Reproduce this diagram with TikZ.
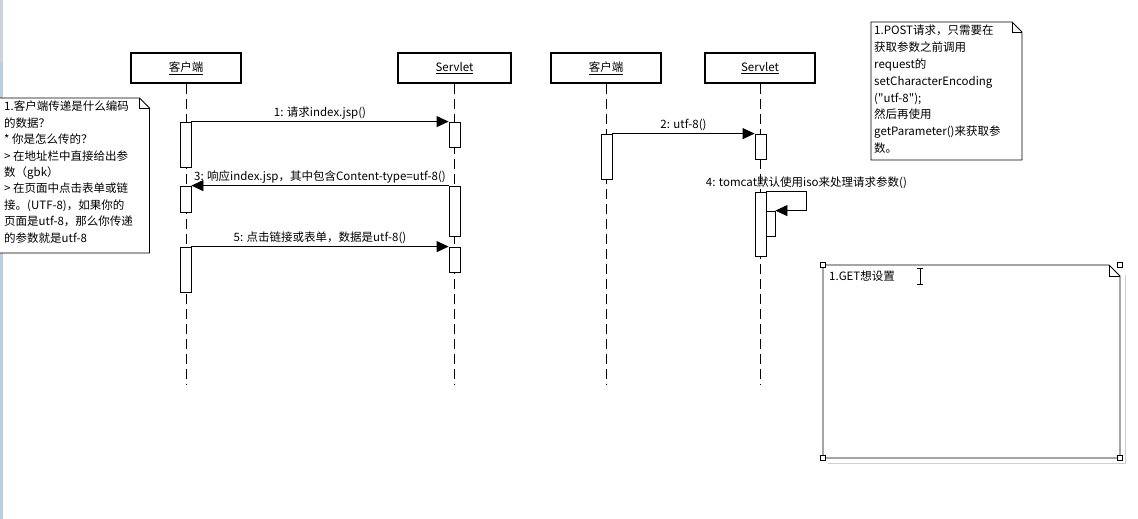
\documentclass[tikz,border=0pt]{standalone}
\usepackage{fontspec}
\setmainfont{Noto Sans CJK SC}[Ligatures=TeXOff]
\usetikzlibrary{arrows.meta}
\definecolor{strip}{HTML}{B9CDE5}
\definecolor{stripgrey}{HTML}{CBD3DC}
\definecolor{shadowgrey}{HTML}{D0D0D0}
\newcommand{\dfs}{\fontsize{11.5}{16.4}\selectfont}
\begin{document}
\begin{tikzpicture}[x=1pt,y=-1pt,
  head/.style={draw, line width=1.6pt, minimum height=30pt, inner sep=0pt, font=\dfs},
  actbar/.style={draw, fill=white, line width=0.8pt, inner sep=0pt, minimum width=11pt},
  lifeline/.style={line width=0.8pt, dash pattern=on 10pt off 5pt},
  msg/.style={line width=0.8pt, -{Triangle[length=12pt,width=11pt]}},
  lbl/.style={font=\dfs, inner sep=0pt},
  notebox/.style={draw, fill=white, line width=0.8pt, line join=miter},
  notetext/.style={align=left, inner sep=0pt, font=\dfs, anchor=north west},
  handle/.style={draw, fill=white, line width=0.6pt, minimum size=5pt, inner sep=0pt}
]
\useasboundingbox (0,0) rectangle (1138,519);
\clip (0,0) rectangle (1138,519);
\fill[white] (0,0) rectangle (1138,519);
\fill[strip] (0,0) rectangle (3,519);
\fill[stripgrey] (0,0) rectangle (3,62);

% headers
\node[head, minimum width=110pt] (h1) at (186,68) {\underline{客户端}};
\node[head, minimum width=113pt] (h2) at (454.5,68) {\underline{Servlet}};
\node[head, minimum width=110pt] (h3) at (606,68) {\underline{客户端}};
\node[head, minimum width=110pt] (h4) at (760,68) {\underline{Servlet}};

% lifeline ends
\coordinate (e1) at (186,385);
\coordinate (e2) at (454.5,385);
\coordinate (e3) at (606,385);
\coordinate (e4) at (760,385);
\draw[lifeline] (h1.south) -- (e1);
\draw[lifeline] (h2.south) -- (e2);
\draw[lifeline] (h3.south) -- (e3);
\draw[lifeline] (h4.south) -- (e4);

% activation bars
\node[actbar, minimum height=45pt] (c1) at (185.5,144.5) {};
\node[actbar, minimum height=26pt] (c2) at (185.5,199) {};
\node[actbar, minimum height=45pt] (c3) at (185.5,269.5) {};
\node[actbar, minimum height=25pt] (s1) at (454.5,134.5) {};
\node[actbar, minimum height=50pt] (s2) at (454.5,211) {};
\node[actbar, minimum height=25pt] (s3) at (454.5,259.5) {};
\node[actbar, minimum height=45pt] (c4) at (606.5,156.5) {};
\node[actbar, minimum height=25pt] (s4) at (760.5,146.5) {};
\node[actbar, minimum height=64pt] (s5) at (760.5,224) {};
\node[actbar, minimum width=9pt, minimum height=25pt] (s6) at (770.5,223.5) {};

% messages
\draw[msg] (c1.north east) -- node[lbl, above=2pt] {1: 请求index.jsp()} (s1.north west);
\draw[msg] (s2.north west) -- node[lbl, above=2pt] {3: 响应index.jsp，其中包含Content-type=utf-8()} (c2.north east);
\draw[msg] (c3.north east) -- node[lbl, above=2pt] {5: 点击链接或表单，数据是utf-8()} (s3.north west);
\draw[msg] (c4.north east) -- node[lbl, above=2pt] {2: utf-8()} (s4.north west);
\draw[msg] (s5.north east) -- ++(40,0) node[lbl, above=2pt] {4: tomcat默认使用iso来处理请求参数()} |- (s6.north east);

% note 1 (left)
\draw[notebox] (-5,98) -- (139.5,98) -- (149.5,108) -- (149.5,253) -- (-5,253) -- cycle;
\draw[line width=0.8pt] (139.5,98) -- (139.5,108) -- (149.5,108);
\node[notetext] (n1) at (4,101) {1.客户端传递是什么编码\\的数据？\\* 你是怎么传的？\\> 在地址栏中直接给出参\\数（gbk）\\> 在页面中点击表单或链\\接。(UTF-8)，如果你的\\页面是utf-8，那么你传递\\的参数就是utf-8};

% note 2 (top right)
\draw[notebox] (871,22) -- (1012,22) -- (1022,32) -- (1022,160) -- (871,160) -- cycle;
\draw[line width=0.8pt] (1012,22) -- (1012,32) -- (1022,32);
\node[notetext, font=\fontsize{11.5}{16.8}\selectfont] (n2) at (874,25) {1.POST请求，只需要在\\获取参数之前调用\\request的\\setCharacterEncoding\\("utf-8");\\然后再使用\\getParameter()来获取参\\数。};

% note 3 (bottom right, selected)
\draw[shadowgrey, line width=0.8pt] (1125,275) -- (1125,463) -- (828,463);
\draw[notebox] (823,265) -- (1109,265) -- (1120,276) -- (1120,458) -- (823,458) -- cycle;
\draw[line width=0.8pt] (1109,265) -- (1109,276) -- (1120,276);
\node[notetext] (n3) at (829,271) {1.GET想设置};
\node[handle] (k1) at (823,265) {};
\node[handle] (k2) at (1120,265) {};
\node[handle] (k3) at (823,458) {};
\node[handle] (k4) at (1120,458) {};
% text cursor
\draw[line width=0.7pt] (917,268) -- (923,268) (920,268) -- (920,284) (917,284) -- (923,284);
\end{tikzpicture}
\end{document}
